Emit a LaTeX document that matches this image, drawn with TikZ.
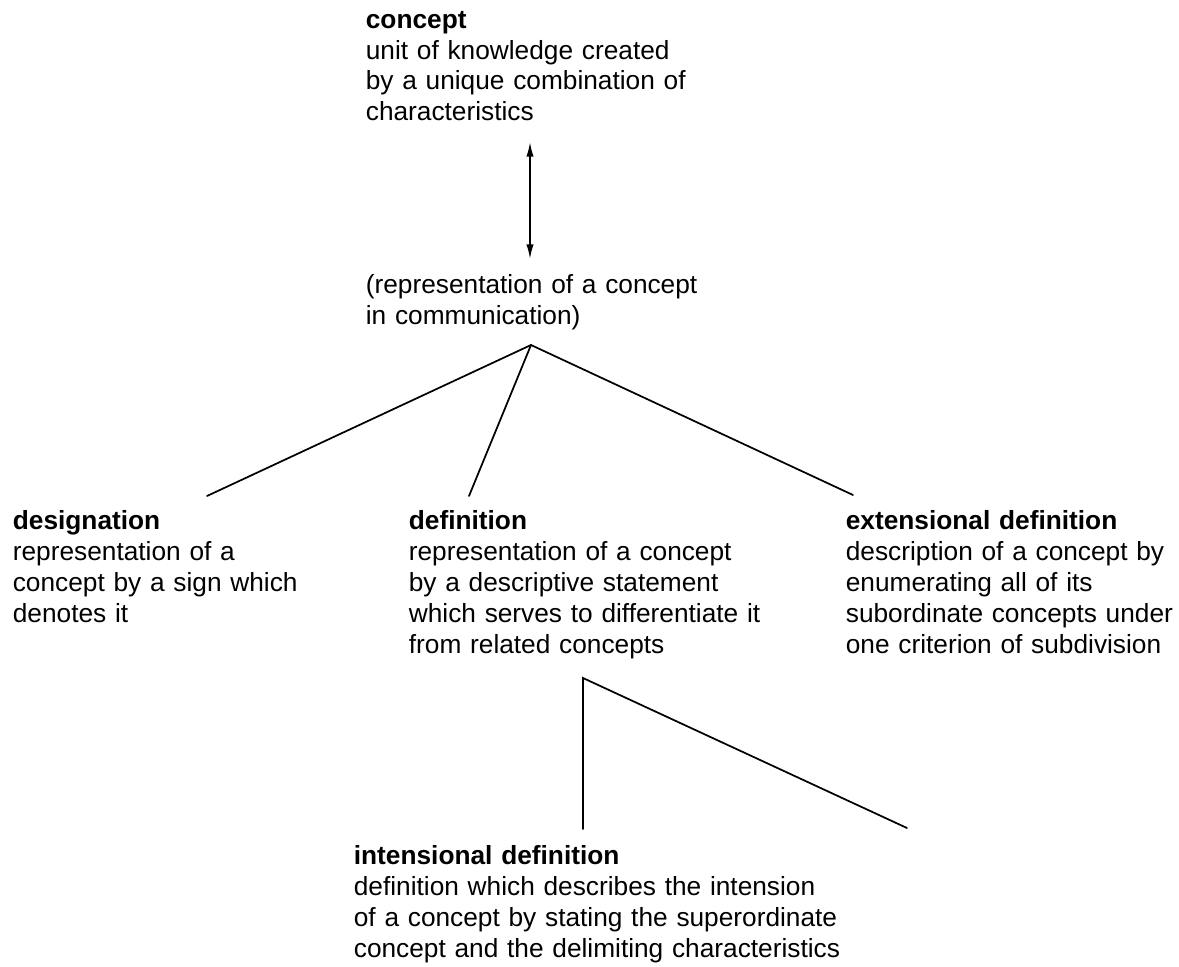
\documentclass[tikz,border=0pt]{standalone}
\usepackage{fontspec}
\setmainfont{Liberation Sans}
\usetikzlibrary{arrows.meta}

\tikzset{every picture/.style={line width=1.3pt}}
\tikzset{
	termtext/.style={anchor=base west, inner sep=0pt, align=left, text width=560pt,
		font=\fontsize{19.7}{23.25}\selectfont},
	branch/.style={line cap=round},
	duplex/.style={{Latex[length=11pt,width=5.5pt]}-{Latex[length=11pt,width=5.5pt]}}
}

\begin{document}
\begin{tikzpicture}[x=0.75pt,y=0.75pt,yscale=-1,xscale=1]
	\useasboundingbox (0,0) rectangle (1179,967);
	
	% Text Node
	\node[termtext] (concept) at (365,28) {\textbf{concept}\\unit of knowledge created\\by a unique combination of\\characteristics};
	% Text Node
	\node[termtext] (repr) at (365,293) {(representation of a concept\\in communication)};
	% Text Node
	\node[termtext] (desig) at (12,529) {\textbf{designation}\\representation of a\\concept by a sign which\\denotes it};
	% Text Node
	\node[termtext] (defin) at (408,529) {\textbf{definition}\\representation of a concept\\by a descriptive statement\\which serves to differentiate it\\from related concepts};
	% Text Node
	\node[termtext] (extdef) at (845,529) {\textbf{extensional definition}\\description of a concept by\\enumerating all of its\\subordinate concepts under\\one criterion of subdivision};
	% Text Node
	\node[termtext] (intdef) at (353,864) {\textbf{intensional definition}\\definition which describes the intension\\of a concept by stating the superordinate\\concept and the delimiting characteristics};
	
	% connector ends
	\coordinate (concept-foot) at (530,142);
	\coordinate (repr-head) at (530,259);
	\coordinate (repr-foot) at (531,345);
	\coordinate (desig-head) at (207,496);
	\coordinate (defin-head) at (469,496);
	\coordinate (extdef-head) at (853,495);
	\coordinate (defin-foot) at (583,678);
	\coordinate (intdef-head) at (583,829);
	\coordinate (open-end) at (907,828);
	
	%Straight Lines
	\draw[duplex] (concept-foot) -- (repr-head);
	%Straight Lines
	\draw[branch] (repr-foot) -- (desig-head);
	\draw[branch] (repr-foot) -- (defin-head);
	\draw[branch] (repr-foot) -- (extdef-head);
	%Straight Lines
	\draw[branch] (intdef-head) -- (defin-foot) -- (open-end);
	
\end{tikzpicture}
\end{document}
